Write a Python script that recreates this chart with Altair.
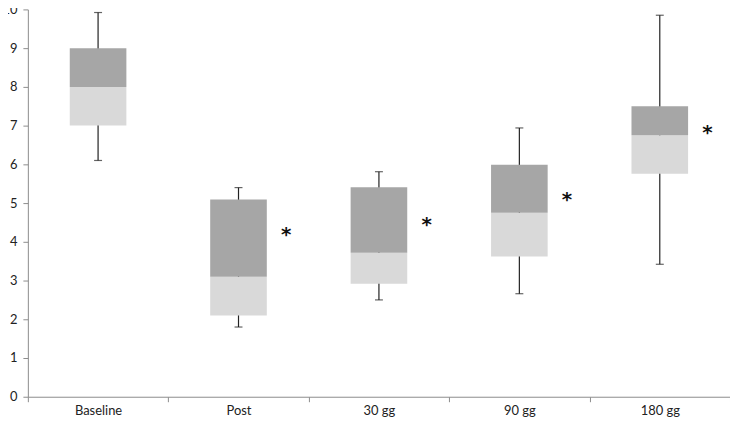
import altair as alt
import pandas as pd

categories = ["Baseline", "Post", "30 gg", "90 gg", "180 gg"]
mins = [6.1, 1.8, 2.5, 2.66, 3.42]
q1 = [7.0, 2.1, 2.92, 3.62, 5.76]
medians = [8.0, 3.1, 3.72, 4.75, 6.75]
q3 = [9.0, 5.09, 5.41, 5.99, 7.5]
maxs = [9.92, 5.4, 5.81, 6.94, 9.85]
star_labels = ["", "*", "*", "*", "*"]
star_y = [8.0, 4.26, 4.52, 5.16, 6.89]
y_ticks = [0, 1, 2, 3, 4, 5, 6, 7, 8, 9, 10]

df = pd.DataFrame({
    "cat": categories, "min": mins, "q1": q1, "med": medians,
    "q3": q3, "max": maxs, "star": star_labels, "sy": star_y,
})

FONT = "Lato"
x = alt.X("cat:N", sort=categories, title=None,
          scale=alt.Scale(paddingInner=0, paddingOuter=0),
          axis=alt.Axis(labelAngle=0, tickBand="extent", labelPadding=3))
yscale = alt.Scale(domain=[0, 10], nice=False, zero=True)
yaxis = alt.Axis(values=y_ticks, title=None, labelPadding=6)


def Y(field):
    return alt.Y(field, scale=yscale, axis=yaxis)


base = alt.Chart(df)
whisk = base.mark_rule(color="#222", strokeWidth=1.2).encode(
    x=x, y=Y("min:Q"), y2="max:Q")
cap_top = base.mark_tick(color="#222", size=8, thickness=1.2, orient="horizontal").encode(
    x=x, y=Y("max:Q"))
cap_bot = base.mark_tick(color="#222", size=8, thickness=1.2, orient="horizontal").encode(
    x=x, y=Y("min:Q"))
low = base.mark_bar(color="#d9d9d9", width=57).encode(
    x=x, y=Y("q1:Q"), y2="med:Q")
high = base.mark_bar(color="#a6a6a6", width=57).encode(
    x=x, y=Y("med:Q"), y2="q3:Q")
stars = base.mark_text(fontSize=20, fontWeight="bold", font="DejaVu Sans",
                       color="#111", dx=48, dy=3, baseline="middle").encode(
    x=x, y=Y("sy:Q"), text="star:N")

chart = alt.layer(whisk, cap_top, cap_bot, low, high, stars).properties(
    width=707, height=390,
    autosize=alt.AutoSizeParams(type="none"),
    padding={"left": 20, "top": 0, "right": 0, "bottom": 24},
    background="white",
).configure_view(stroke="transparent", strokeWidth=0).configure_axis(
    grid=False, domainColor="#8c8c8c", tickColor="#8c8c8c", tickSize=5,
    labelFont=FONT, labelFontSize=13, labelColor="#222",
).configure_axisY(labelOverlap=False, tickCount=11)

chart.save("out.html", embed_options={"renderer": "svg", "actions": False})
